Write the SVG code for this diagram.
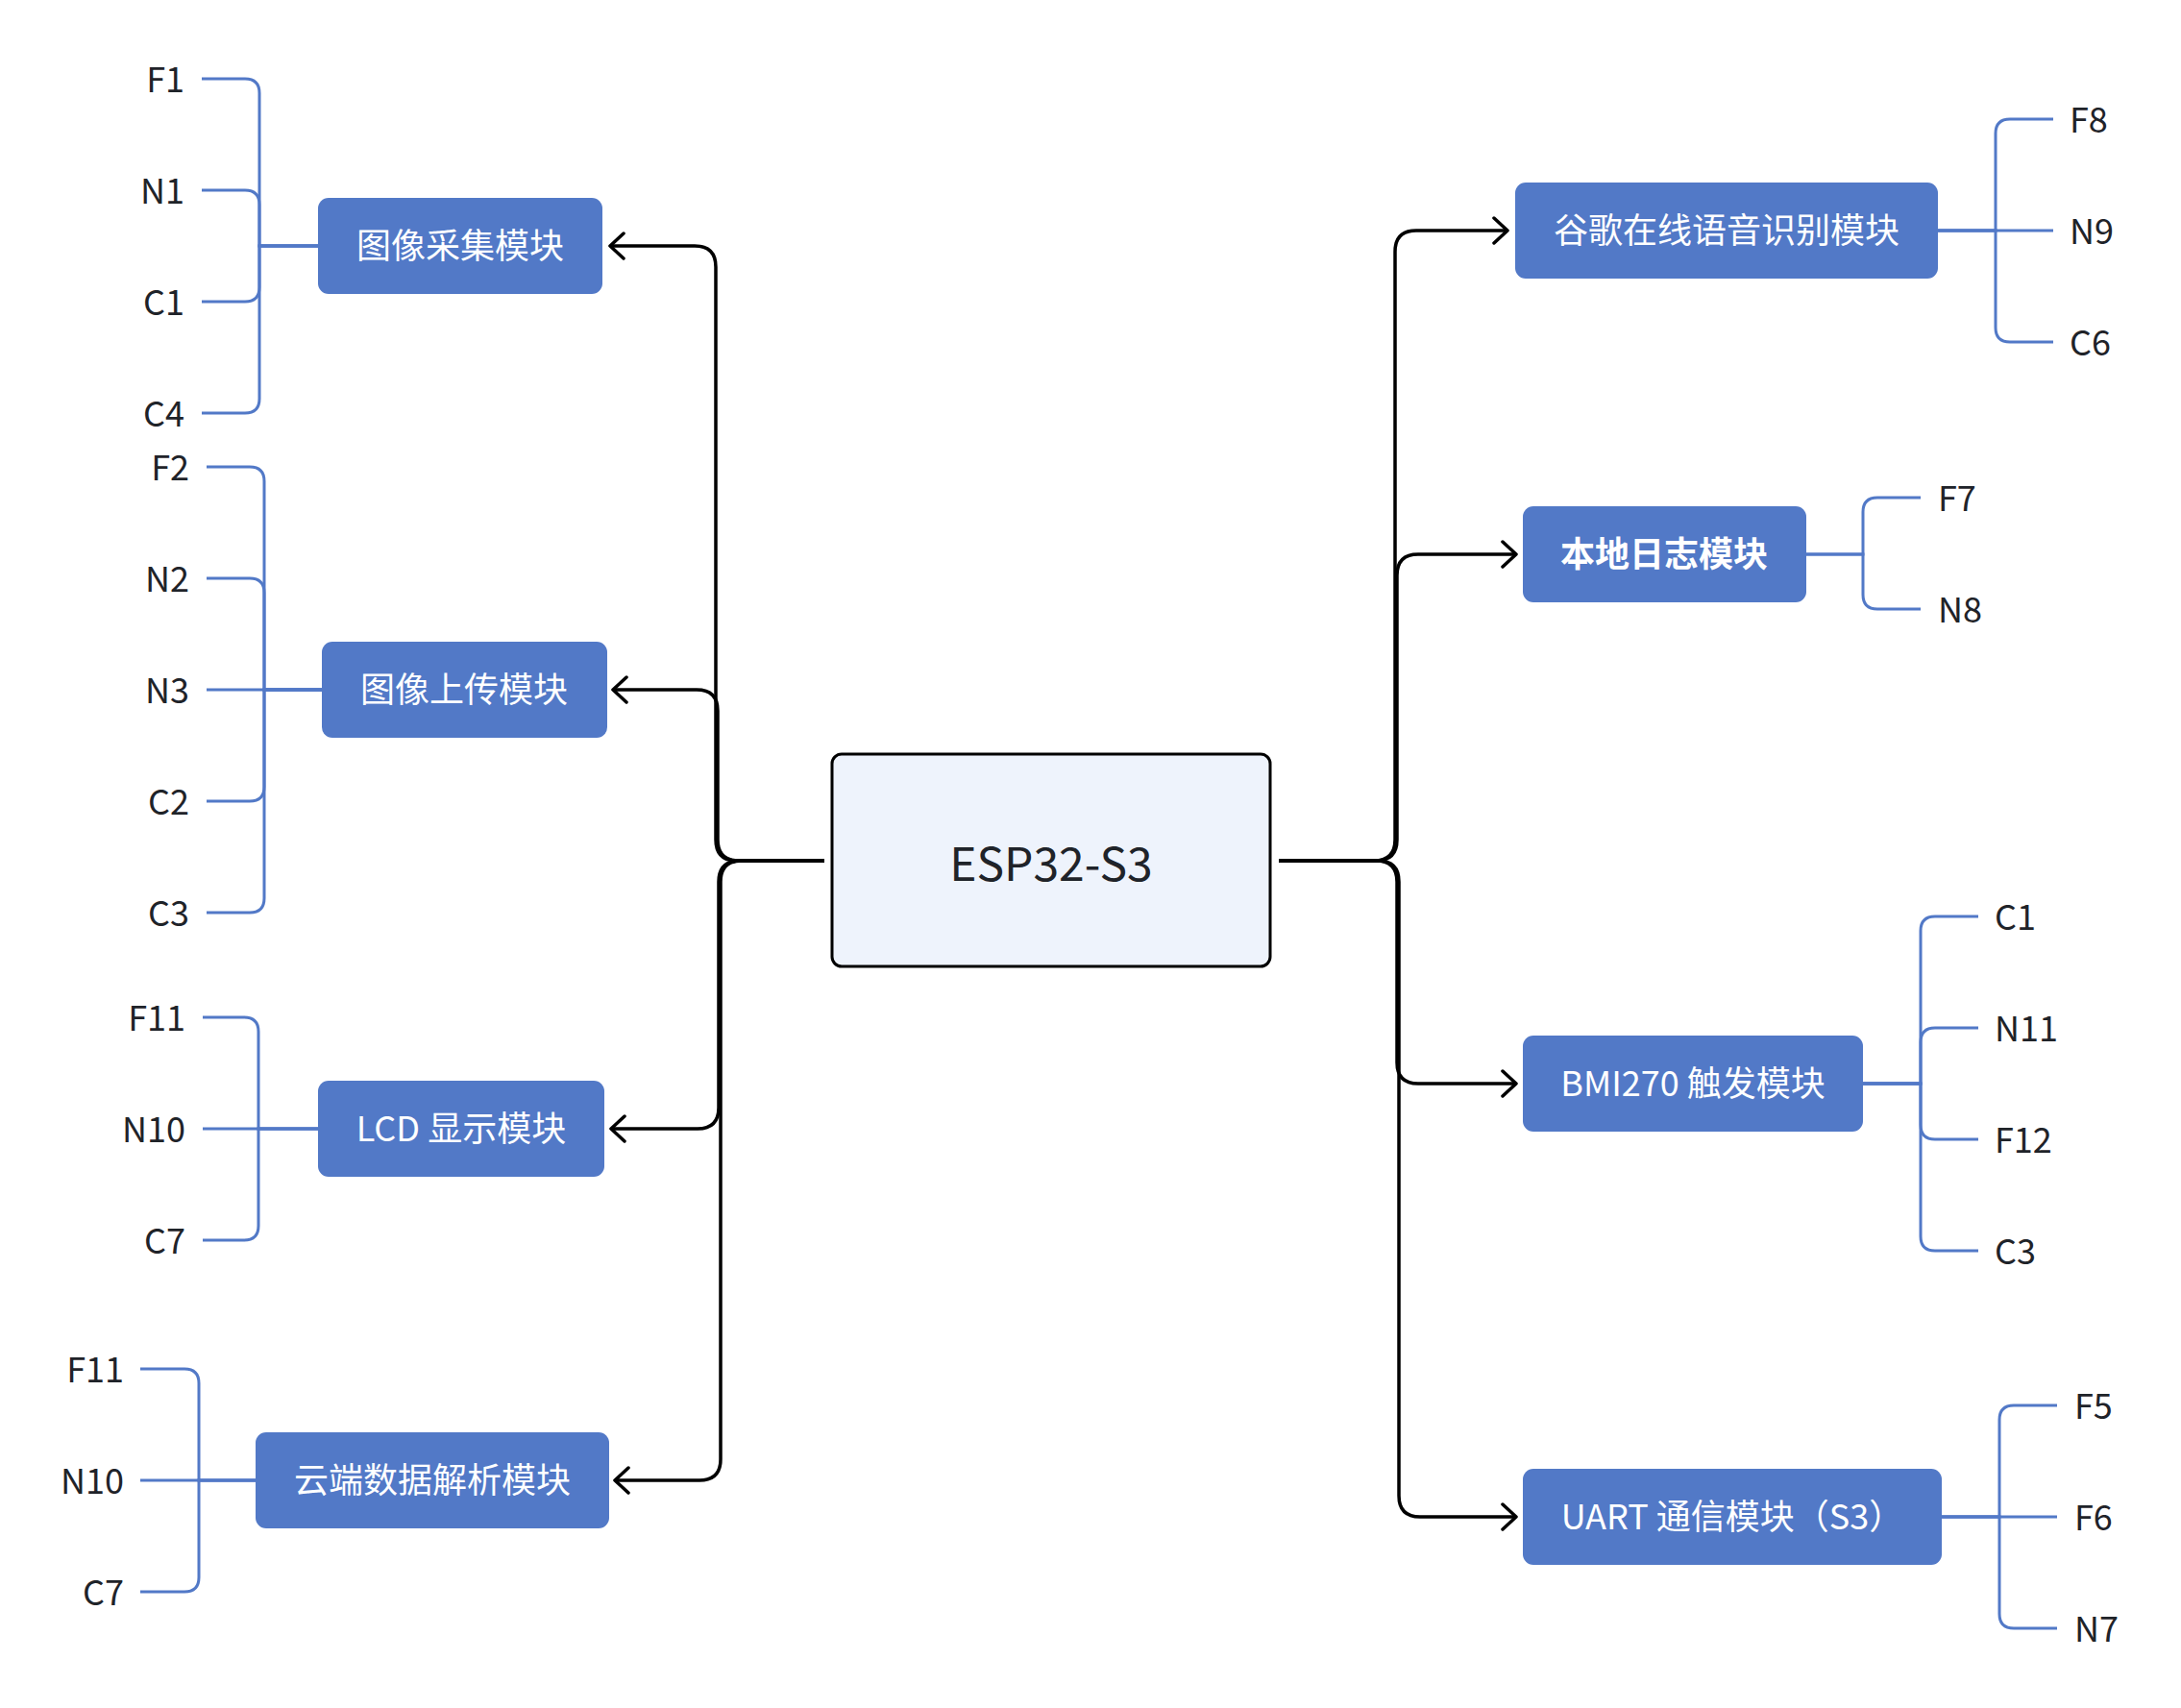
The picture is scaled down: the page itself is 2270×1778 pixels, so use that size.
<svg xmlns="http://www.w3.org/2000/svg" width="2270" height="1778" viewBox="0 0 2270 1778">
<defs>
<style>
.node{fill:#5279c7;}
.ntxt{fill:#ffffff;font-family:"Noto Sans CJK SC","Noto Sans",sans-serif;font-size:36px;text-anchor:middle;}
.leaf{fill:#1f2329;font-family:"Noto Sans CJK SC","Noto Sans",sans-serif;font-size:36px;}
.l{text-anchor:end;}
.r{text-anchor:start;}
.bl{fill:none;stroke:#5279c7;stroke-width:3;}
.bk{fill:none;stroke:#000000;stroke-width:3.5;stroke-linejoin:round;}
</style>
<marker id="arr" viewBox="-2 -16 20 32" markerWidth="20" markerHeight="32" refX="14" refY="0" orient="auto" markerUnits="userSpaceOnUse">
<path d="M0,-13 L14,0 L0,13" fill="none" stroke="#000000" stroke-width="3.5" stroke-linecap="round" stroke-linejoin="round"/>
</marker>
</defs>
<rect width="2270" height="1778" fill="#ffffff"/>

<g id="connectors">
<path class="bk" marker-end="url(#arr)" d="M858,896 H767 Q745,896 745,874 V278 Q745,256 723,256 H635"/>
<path class="bk" marker-end="url(#arr)" d="M858,896 H769 Q747,896 747,874 V740 Q747,718 725,718 H638"/>
<path class="bk" marker-end="url(#arr)" d="M858,896 H770 Q748,896 748,918 V1153 Q748,1175 726,1175 H636"/>
<path class="bk" marker-end="url(#arr)" d="M858,896 H772 Q750,896 750,918 V1519 Q750,1541 728,1541 H640"/>
<path class="bk" marker-end="url(#arr)" d="M1331,896 H1430 Q1452,896 1452,874 V262 Q1452,240 1474,240 H1569"/>
<path class="bk" marker-end="url(#arr)" d="M1331,896 H1432 Q1454,896 1454,874 V599 Q1454,577 1476,577 H1578"/>
<path class="bk" marker-end="url(#arr)" d="M1331,896 H1432 Q1454,896 1454,918 V1106 Q1454,1128 1476,1128 H1578"/>
<path class="bk" marker-end="url(#arr)" d="M1331,896 H1434 Q1456,896 1456,918 V1557 Q1456,1579 1478,1579 H1578"/>

<path class="bl" d="M331,256 H270 V97 Q270,82 255,82 H210"/>
<path class="bl" d="M331,256 H270 V213 Q270,198 255,198 H210"/>
<path class="bl" d="M331,256 H270 V299 Q270,314 255,314 H210"/>
<path class="bl" d="M331,256 H270 V415 Q270,430 255,430 H210"/>
<path class="bl" d="M335,718 H275 V501 Q275,486 260,486 H215"/>
<path class="bl" d="M335,718 H275 V617 Q275,602 260,602 H215"/>
<path class="bl" d="M335,718 H215"/>
<path class="bl" d="M335,718 H275 V819 Q275,834 260,834 H215"/>
<path class="bl" d="M335,718 H275 V935 Q275,950 260,950 H215"/>
<path class="bl" d="M331,1175 H269 V1074 Q269,1059 254,1059 H211"/>
<path class="bl" d="M331,1175 H211"/>
<path class="bl" d="M331,1175 H269 V1276 Q269,1291 254,1291 H211"/>
<path class="bl" d="M266,1541 H207 V1440 Q207,1425 192,1425 H146"/>
<path class="bl" d="M266,1541 H146"/>
<path class="bl" d="M266,1541 H207 V1642 Q207,1657 192,1657 H146"/>
<path class="bl" d="M2017,240 H2077 V139 Q2077,124 2092,124 H2137"/>
<path class="bl" d="M2017,240 H2137"/>
<path class="bl" d="M2017,240 H2077 V341 Q2077,356 2092,356 H2137"/>
<path class="bl" d="M1880,577 H1939 V533 Q1939,518 1954,518 H1999"/>
<path class="bl" d="M1880,577 H1939 V619 Q1939,634 1954,634 H1999"/>
<path class="bl" d="M1939,1128 H1999 V969 Q1999,954 2014,954 H2059"/>
<path class="bl" d="M1939,1128 H1999 V1085 Q1999,1070 2014,1070 H2059"/>
<path class="bl" d="M1939,1128 H1999 V1171 Q1999,1186 2014,1186 H2059"/>
<path class="bl" d="M1939,1128 H1999 V1287 Q1999,1302 2014,1302 H2059"/>
<path class="bl" d="M2021,1579 H2081 V1478 Q2081,1463 2096,1463 H2141"/>
<path class="bl" d="M2021,1579 H2141"/>
<path class="bl" d="M2021,1579 H2081 V1680 Q2081,1695 2096,1695 H2141"/>
</g>

<g id="esp32">
<rect x="866" y="785" width="456" height="221" rx="10" fill="#eef3fc" stroke="#000000" stroke-width="3"/>
<text x="1094" y="917" font-family="'Noto Sans CJK SC','Noto Sans',sans-serif" font-size="48" fill="#1f2329" text-anchor="middle">ESP32-S3</text>
</g>

<g id="node-capture">
<rect class="node" x="331" y="206" width="296" height="100" rx="11"/>
<text class="ntxt" x="479" y="269">图像采集模块</text>
</g>
<g id="node-upload">
<rect class="node" x="335" y="668" width="297" height="100" rx="11"/>
<text class="ntxt" x="483" y="731">图像上传模块</text>
</g>
<g id="node-lcd">
<rect class="node" x="331" y="1125" width="298" height="100" rx="11"/>
<text class="ntxt" x="480" y="1188">LCD 显示模块</text>
</g>
<g id="node-cloud">
<rect class="node" x="266" y="1491" width="368" height="100" rx="11"/>
<text class="ntxt" x="450" y="1554">云端数据解析模块</text>
</g>
<g id="node-google">
<rect class="node" x="1577" y="190" width="440" height="100" rx="11"/>
<text class="ntxt" x="1797" y="253">谷歌在线语音识别模块</text>
</g>
<g id="node-log">
<rect class="node" x="1585" y="527" width="295" height="100" rx="11"/>
<text class="ntxt" x="1732" y="590" font-weight="bold">本地日志模块</text>
</g>
<g id="node-bmi">
<rect class="node" x="1585" y="1078" width="354" height="100" rx="11"/>
<text class="ntxt" x="1762" y="1141">BMI270 触发模块</text>
</g>
<g id="node-uart">
<rect class="node" x="1585" y="1529" width="436" height="100" rx="11"/>
<text class="ntxt" x="1803" y="1592">UART 通信模块（S3）</text>
</g>

<g id="leaves-capture">
<text class="leaf l" x="192" y="96">F1</text>
<text class="leaf l" x="192" y="212">N1</text>
<text class="leaf l" x="192" y="328">C1</text>
<text class="leaf l" x="192" y="444">C4</text>
</g>
<g id="leaves-upload">
<text class="leaf l" x="197" y="500">F2</text>
<text class="leaf l" x="197" y="616">N2</text>
<text class="leaf l" x="197" y="732">N3</text>
<text class="leaf l" x="197" y="848">C2</text>
<text class="leaf l" x="197" y="964">C3</text>
</g>
<g id="leaves-lcd">
<text class="leaf l" x="193" y="1073">F11</text>
<text class="leaf l" x="193" y="1189">N10</text>
<text class="leaf l" x="193" y="1305">C7</text>
</g>
<g id="leaves-cloud">
<text class="leaf l" x="129" y="1439">F11</text>
<text class="leaf l" x="129" y="1555">N10</text>
<text class="leaf l" x="129" y="1671">C7</text>
</g>
<g id="leaves-google">
<text class="leaf r" x="2154" y="138">F8</text>
<text class="leaf r" x="2154" y="254">N9</text>
<text class="leaf r" x="2154" y="370">C6</text>
</g>
<g id="leaves-log">
<text class="leaf r" x="2017" y="532">F7</text>
<text class="leaf r" x="2017" y="648">N8</text>
</g>
<g id="leaves-bmi">
<text class="leaf r" x="2076" y="968">C1</text>
<text class="leaf r" x="2076" y="1084">N11</text>
<text class="leaf r" x="2076" y="1200">F12</text>
<text class="leaf r" x="2076" y="1316">C3</text>
</g>
<g id="leaves-uart">
<text class="leaf r" x="2159" y="1477">F5</text>
<text class="leaf r" x="2159" y="1593">F6</text>
<text class="leaf r" x="2159" y="1709">N7</text>
</g>
</svg>
